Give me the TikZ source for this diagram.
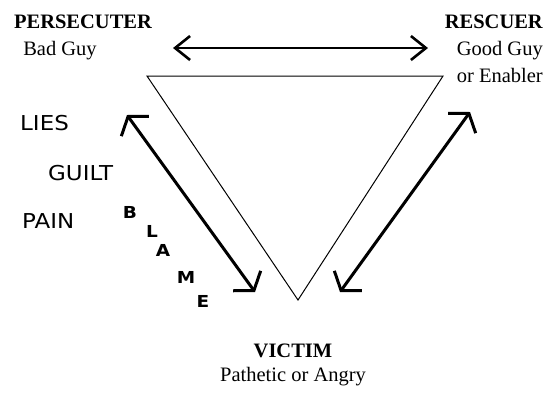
\documentclass[tikz,border=0pt]{standalone}
\usepackage{fontspec}
\setmainfont{Liberation Serif}
\newfontfamily\handfont[FakeStretch=1.12]{DejaVu Sans}
\usetikzlibrary{arrows.meta}

\begin{document}
\begin{tikzpicture}[x=1pt, y=-1pt,
  role/.style={font=\fontsize{20.5}{24}\selectfont\bfseries, inner sep=0pt, anchor=base},
  trait/.style={font=\fontsize{20.5}{24}\selectfont, inner sep=0pt, anchor=base},
  hand/.style={font=\handfont\fontsize{20.5}{24}\selectfont, inner sep=0pt, anchor=base west},
  blame/.style={font=\handfont\bfseries\fontsize{16.5}{18}\selectfont, inner sep=0pt},
  swing/.style={line width=3pt, {Straight Barb[length=12pt,width=34pt]}-{Straight Barb[length=12pt,width=34pt]}}]
\useasboundingbox (0,0) rectangle (543,392);
% roles at the corners
\node[role] (pers) at (83,28.5) {PERSECUTER};
\node[trait] (persnote) at (60,55.5) {Bad Guy};
\node[role, anchor=base east] (resc) at (543,28.5) {RESCUER};
\node[trait, anchor=base east] (rescnote) at (543,55.5) {Good Guy};
\node[trait, anchor=base east] (rescnote2) at (543,82) {or Enabler};
\node[role] (vict) at (293,357.5) {VICTIM};
\node[trait] (victnote) at (293,381.5) {Pathetic or Angry};
% the triangle
\coordinate (tl) at (147,76);
\coordinate (tr) at (443,76);
\coordinate (bot) at (298,300);
\draw[line width=1pt] (tl) -- (tr) -- (bot) -- cycle;
% switching arrows
\coordinate (pl) at (173,48);
\coordinate (pr) at (428,48);
\draw[line width=2.6pt, {Straight Barb[length=15pt,width=24pt]}-{Straight Barb[length=15pt,width=24pt]}] (pl) -- (pr);
\coordinate (lt) at (127,115);
\coordinate (lb) at (255,292);
\draw[swing] (lt) -- (lb);
\coordinate (rt) at (470,112);
\coordinate (rb) at (340,292);
\draw[swing] (rt) -- (rb);
% handwritten notes
\node[hand] (lies) at (20,130) {LIES};
\node[hand] (guilt) at (48,180) {GUILT};
\node[hand] (pain) at (22,228) {PAIN};
\node[blame] (b) at (130,212) {B};
\node[blame] (l) at (152,231) {L};
\node[blame] (a) at (163,250) {A};
\node[blame] (m) at (186,277) {M};
\node[blame] (e) at (203,301) {E};
\end{tikzpicture}
\end{document}
